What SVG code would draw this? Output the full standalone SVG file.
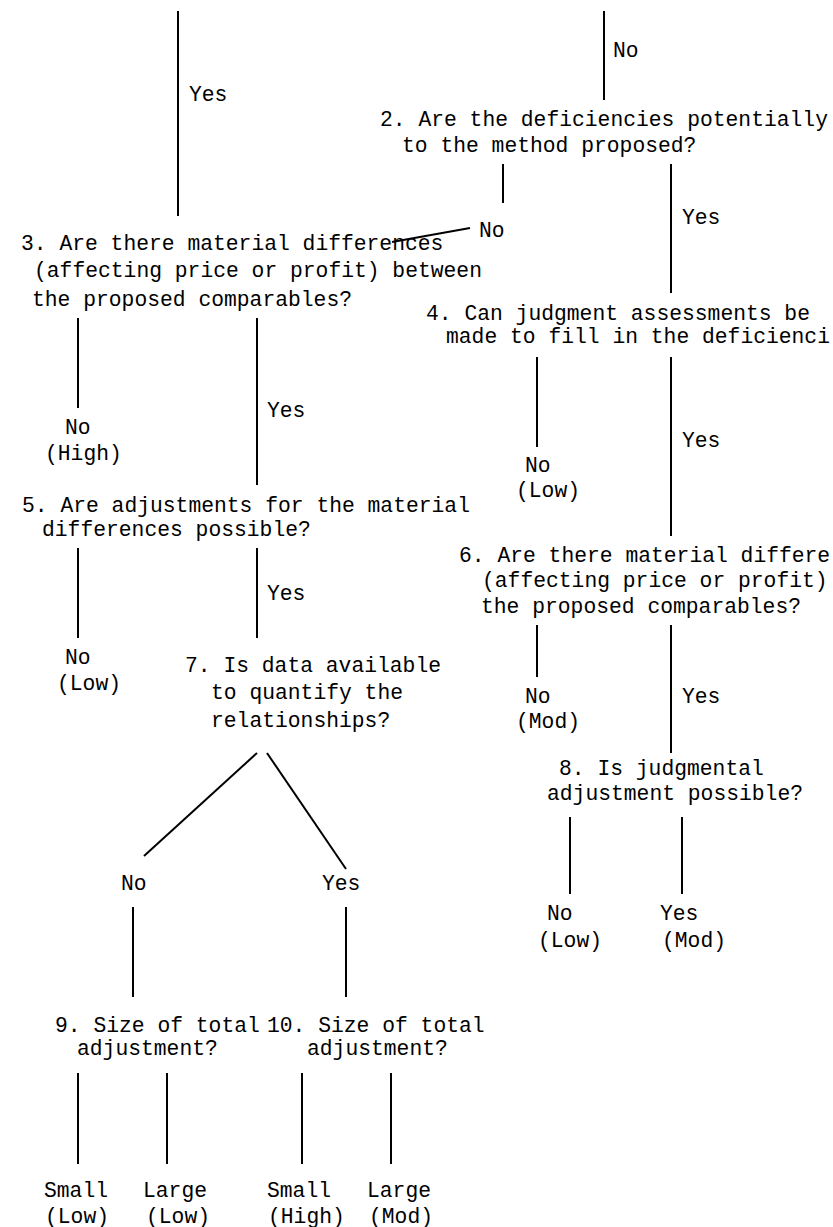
<svg xmlns="http://www.w3.org/2000/svg" width="833" height="1227" viewBox="0 0 833 1227">
<style>
text{font-family:"Liberation Mono","Courier New",monospace;font-size:21.33px;fill:#000}
.c line{stroke:#000;stroke-width:2}
</style>
<rect width="833" height="1227" fill="#fff"/>
<g class="c" id="connectors">
<line x1="178" y1="11" x2="178" y2="216"/>
<line x1="604" y1="11" x2="604" y2="100"/>
<line x1="503" y1="164" x2="503" y2="203"/>
<line x1="392" y1="242" x2="470" y2="228"/>
<line x1="671" y1="164" x2="671" y2="293"/>
<line x1="78" y1="318" x2="78" y2="408"/>
<line x1="257" y1="318" x2="257" y2="485"/>
<line x1="537" y1="357" x2="537" y2="447"/>
<line x1="671" y1="357" x2="671" y2="536"/>
<line x1="78" y1="548" x2="78" y2="638"/>
<line x1="257" y1="548" x2="257" y2="638"/>
<line x1="537" y1="625" x2="537" y2="677"/>
<line x1="671" y1="625" x2="671" y2="753"/>
<line x1="570" y1="817" x2="570" y2="894"/>
<line x1="682" y1="817" x2="682" y2="894"/>
<line x1="257" y1="753" x2="144" y2="856"/>
<line x1="267" y1="753" x2="346" y2="869"/>
<line x1="133" y1="907" x2="133" y2="997"/>
<line x1="346" y1="907" x2="346" y2="997"/>
<line x1="78" y1="1073" x2="78" y2="1164"/>
<line x1="167" y1="1073" x2="167" y2="1164"/>
<line x1="302" y1="1073" x2="302" y2="1164"/>
<line x1="391" y1="1073" x2="391" y2="1164"/>
</g>
<g id="labels">
<text x="189" y="101">Yes</text>
<text x="613" y="57">No</text>
<text x="479" y="237">No</text>
<text x="682" y="224">Yes</text>
<text x="267" y="417">Yes</text>
<text x="682" y="447">Yes</text>
<text x="267" y="600">Yes</text>
<text x="682" y="703">Yes</text>
<text x="121" y="890">No</text>
<text x="322" y="890">Yes</text>
</g>
<g id="q2"><text x="380" y="126">2. Are the deficiencies potentially</text><text x="402" y="152">to the method proposed?</text></g>
<g id="q3"><text x="21" y="250">3. Are there material differences</text><text x="34" y="277">(affecting price or profit) between</text><text x="32" y="306">the proposed comparables?</text></g>
<g id="q4"><text x="426" y="320">4. Can judgment assessments be</text><text x="446" y="343">made to fill in the deficienci</text></g>
<g id="r3no"><text x="65" y="434">No</text><text x="45" y="460">(High)</text></g>
<g id="r4no"><text x="525" y="472">No</text><text x="516" y="497">(Low)</text></g>
<g id="q5"><text x="22" y="512">5. Are adjustments for the material</text><text x="42" y="536">differences possible?</text></g>
<g id="q6"><text x="459" y="562">6. Are there material differe</text><text x="482" y="587">(affecting price or profit)</text><text x="481" y="613">the proposed comparables?</text></g>
<g id="r5no"><text x="65" y="664">No</text><text x="57" y="690">(Low)</text></g>
<g id="q7"><text x="185" y="672">7. Is data available</text><text x="211" y="699">to quantify the</text><text x="211" y="727">relationships?</text></g>
<g id="r6no"><text x="525" y="703">No</text><text x="516" y="728">(Mod)</text></g>
<g id="q8"><text x="559" y="775">8. Is judgmental</text><text x="547" y="800">adjustment possible?</text></g>
<g id="r8no"><text x="547" y="920">No</text><text x="538" y="947">(Low)</text></g>
<g id="r8yes"><text x="660" y="920">Yes</text><text x="662" y="947">(Mod)</text></g>
<g id="q9"><text x="55" y="1032">9. Size of total</text><text x="77" y="1055">adjustment?</text></g>
<g id="q10"><text x="267" y="1032">10. Size of total</text><text x="307" y="1055">adjustment?</text></g>
<g id="r9s"><text x="44" y="1197">Small</text><text x="45" y="1223">(Low)</text></g>
<g id="r9l"><text x="143" y="1197">Large</text><text x="146" y="1223">(Low)</text></g>
<g id="r10s"><text x="267" y="1197">Small</text><text x="268" y="1223">(High)</text></g>
<g id="r10l"><text x="367" y="1197">Large</text><text x="369" y="1223">(Mod)</text></g>
</svg>
